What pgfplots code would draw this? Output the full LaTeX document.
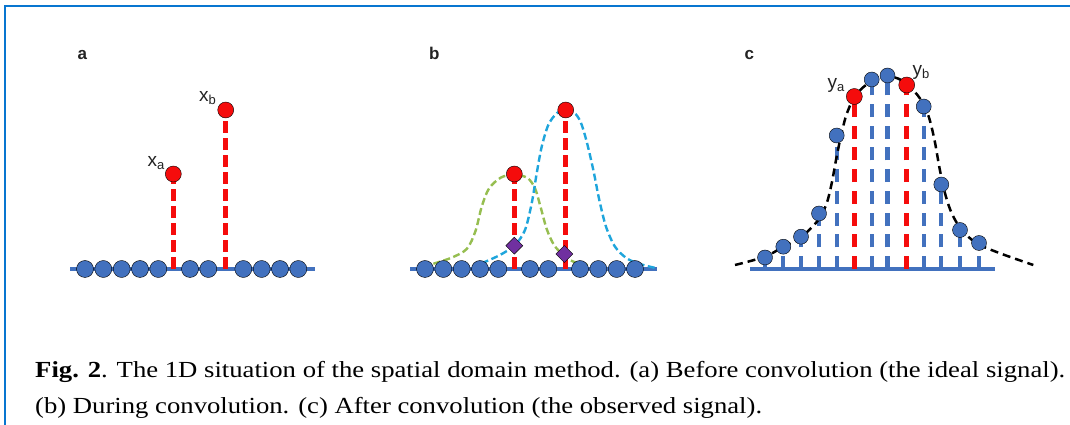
\documentclass[border=0pt]{standalone}
\usepackage{pgfplots}
\pgfplotsset{compat=1.18}
\usepackage{fontspec}
\usepackage{graphicx}
\setmainfont{Liberation Serif}
\newfontfamily\lab{Liberation Sans}
\definecolor{dotblue}{RGB}{66,113,190}
\definecolor{myred}{RGB}{245,12,12}
\definecolor{mygreen}{RGB}{150,190,80}
\definecolor{mycyan}{RGB}{30,165,220}
\definecolor{mypurple}{RGB}{112,48,160}
\definecolor{border}{RGB}{8,118,208}
\definecolor{labgray}{RGB}{35,35,35}
\newlength\capw
\begin{document}%
\settowidth\capw{\fontsize{23}{26}\selectfont\textbf{Fig. 2}. The 1D situation of the spatial domain method. (a) Before convolution (the ideal signal).}%
\pgfmathsetmacro\capxs{1030/\capw}%
\begin{tikzpicture}
\useasboundingbox (0,0) rectangle (1070pt,425pt);
\fill[white] (0,0) rectangle (1070pt,425pt);
\begin{axis}[at={(0pt,0pt)}, anchor=south west, width=1070pt, height=425pt,
  scale only axis, xmin=0, xmax=1070, ymin=-156, ymax=269, hide axis, clip=false]

% frame
\draw[border, line width=2.6pt] (axis cs:5,-160) -- (axis cs:5,263) -- (axis cs:1072,263);

% ---------------- panel a ----------------
\addplot[dotblue, line width=3.5pt, no marks] coordinates {(70,0) (315,0)};
\addplot[only marks, mark=*, mark size=8.5pt, mark options={draw=none, fill=dotblue}]
  coordinates {(85,0) (103.3,0) (121.7,0) (140,0) (158.3,0) (190,0) (208.3,0) (243.3,0) (261.7,0) (280,0) (298.3,0)};
\addplot[ycomb, myred, line width=5pt, dash pattern=on 12pt off 5pt, no marks]
  coordinates {(173.3,95) (225.7,159)};
\addplot[only marks, mark=*, mark size=8pt, mark options={draw=none, fill=myred}]
  coordinates {(173.3,95) (225.7,159)};

% ---------------- panel b ----------------
\addplot[dotblue, line width=3.5pt, no marks] coordinates {(410,0) (657,0)};
\addplot[only marks, mark=*, mark size=8.5pt, mark options={draw=none, fill=dotblue}]
  coordinates {(425,0) (443.3,0) (461.7,0) (480,0) (498.3,0) (530,0) (548.3,0) (580,0) (598.3,0) (616.7,0) (635,0)};
\addplot[ycomb, myred, line width=5pt, dash pattern=on 12pt off 5pt, no marks]
  coordinates {(514.3,95) (565.7,159)};
\addplot[only marks, mark=*, mark size=8pt, mark options={draw=none, fill=myred}]
  coordinates {(514.3,95) (565.7,159)};
\addplot[mygreen, smooth, tension=0.5, line width=2.4pt, dash pattern=on 7pt off 3.5pt, no marks]
  coordinates {(423.3,2.3) (450,10.7) (466.7,20) (475.5,38) (481.7,62.3) (489,80.5) (501,91.5) (514.3,94.5)
   (527.5,91) (535,80.7) (540.5,62.3) (546.7,40) (554,24) (563.3,14) (573,7.5) (590,3.5) (605,2)};
\addplot[mycyan, smooth, tension=0.5, line width=2.4pt, dash pattern=on 7pt off 3.5pt, no marks]
  coordinates {(481.7,5.7) (500,14) (515,24) (525,39) (531.7,65.7) (536.7,95.7) (541.7,122.3) (548.3,144)
   (556.7,155.7) (565.7,159.5) (574,156.5) (580.5,147.3) (586.7,127.3) (593.3,99) (599.3,69) (606,42.3)
   (615,22.3) (626.7,10.7) (640,5) (656.7,0.7)};
\addplot[only marks, mark=square*, mark size=6pt, mark options={draw=none, fill=mypurple, rotate=45}]
  coordinates {(514.3,23.3) (564.3,15)};

% ---------------- panel c ----------------
\addplot[dotblue, line width=4pt, no marks] coordinates {(750,0) (995,0)};
\addplot[ycomb, dotblue, line width=4.2pt, dash pattern=on 13pt off 8.7pt, no marks]
  coordinates {(765,11.5) (783.3,22.3) (801,32.3) (819,55.5) (836.7,133.5) (871.7,189.5) (887.5,193.5)
   (923.7,162.5) (941.3,84.5) (960,39) (979,26)};
\addplot[ycomb, myred, line width=5pt, dash pattern=on 13pt off 8.7pt, no marks]
  coordinates {(854.3,172.5) (906.7,184)};
\addplot[only marks, mark=*, mark size=7.5pt, mark options={draw=none, fill=dotblue}]
  coordinates {(765,11.5) (783.3,22.3) (801,32.3) (819,55.5) (836.7,133.5) (871.7,189.5) (887.5,193.5)
   (923.7,162.5) (941.3,84.5) (960,39) (979,26)};
\addplot[only marks, mark=*, mark size=8pt, mark options={draw=none, fill=myred}]
  coordinates {(854.3,172.5) (906.7,184)};
\addplot[black, smooth, tension=0.5, line width=2.5pt, dash pattern=on 8pt off 5pt, no marks]
  coordinates {(735,4) (765,12.3) (783.3,22.3) (801.7,32.3) (818.3,49) (826.7,65.7) (831.7,85.7) (836,109)
   (840.5,131) (846,153) (853,169.5) (862,180.7) (873.3,188.5) (886.7,192) (898,190.5) (909,183)
   (920,170.5) (928.5,153) (934.5,129) (939.5,101) (945,75.7) (951.7,55.7) (961.7,39) (976.7,25.7) (1000,15.7) (1033.3,4)};

% ---------------- labels ----------------
\begin{scope}[every node/.style={inner sep=0pt, anchor=base west, text=labgray}]
\node[font=\lab\bfseries\fontsize{17}{17}\selectfont] at (axis cs:77.3,209) {a};
\node[font=\lab\bfseries\fontsize{17}{17}\selectfont] at (axis cs:429,209) {b};
\node[font=\lab\bfseries\fontsize{17}{17}\selectfont] at (axis cs:744.3,209) {c};
\node[font=\lab\fontsize{19}{19}\selectfont] at (axis cs:147.5,102.3) {x\raisebox{-3pt}{\fontsize{13}{13}\selectfont a}};
\node[font=\lab\fontsize{19}{19}\selectfont] at (axis cs:199,167.3) {x\raisebox{-3pt}{\fontsize{13}{13}\selectfont b}};
\node[font=\lab\fontsize{19}{19}\selectfont] at (axis cs:827.5,180.2) {y\raisebox{-3pt}{\fontsize{13}{13}\selectfont a}};
\node[font=\lab\fontsize{19}{19}\selectfont] at (axis cs:912.5,193.5) {y\raisebox{-3pt}{\fontsize{13}{13}\selectfont b}};
\node[text=black] at (axis cs:35,-108.3) {\scalebox{\capxs}[1]{\fontsize{23}{26}\selectfont\textbf{Fig. 2}. The 1D situation of the spatial domain method. (a) Before convolution (the ideal signal).}};
\node[text=black] at (axis cs:35,-144.3) {\scalebox{\capxs}[1]{\fontsize{23}{26}\selectfont (b) During convolution. (c) After convolution (the observed signal).}};
\end{scope}
\end{axis}
\end{tikzpicture}
\end{document}
